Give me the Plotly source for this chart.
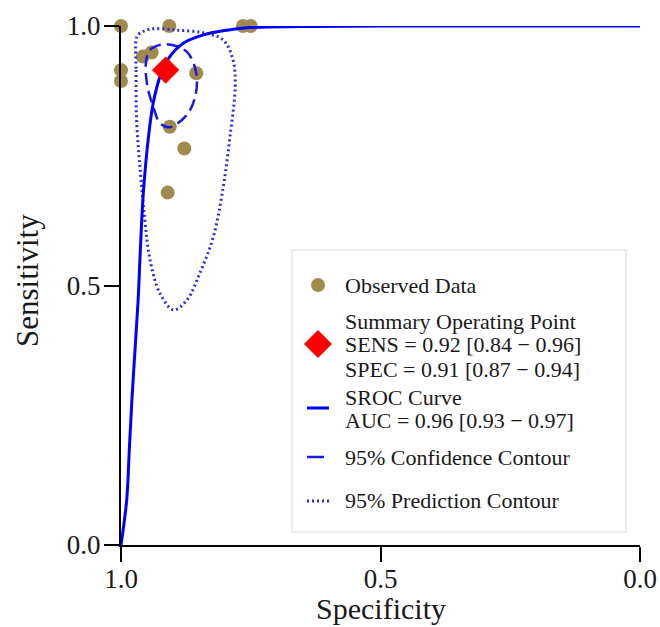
import plotly.graph_objects as go

# ---------------- data ----------------
obs_spec = [1.0, 0.907, 0.765, 0.750, 0.958, 0.941, 1.0, 1.0, 0.855, 0.906, 0.878, 0.910]
obs_sens = [1.0, 1.0, 1.0, 1.0, 0.941, 0.949, 0.915, 0.894, 0.909, 0.806, 0.764, 0.679]

summary_spec = [0.914]
summary_sens = [0.915]

sroc_spec = [1.0, 0.989, 0.984, 0.979, 0.973, 0.967, 0.963, 0.957, 0.947, 0.938,
             0.925, 0.906, 0.880, 0.841, 0.796, 0.751, 0.650, 0.500, 0.0]
sroc_sens = [0.0, 0.087, 0.183, 0.279, 0.376, 0.472, 0.562, 0.678, 0.787, 0.851,
             0.902, 0.941, 0.967, 0.983, 0.992, 0.997, 0.999, 1.0, 1.0]

conf_spec = [0.952, 0.944, 0.912, 0.873, 0.855, 0.857, 0.873, 0.906, 0.925, 0.938, 0.949, 0.952]
conf_sens = [0.928, 0.954, 0.965, 0.950, 0.909, 0.864, 0.829, 0.805, 0.813, 0.845, 0.883, 0.928]

pred_spec = [0.971, 0.971, 0.970, 0.963, 0.954, 0.944, 0.925, 0.899, 0.873, 0.848, 0.822,
             0.803, 0.790, 0.780, 0.784, 0.803, 0.841, 0.893, 0.944, 0.967, 0.971]
pred_sens = [0.973, 0.915, 0.819, 0.723, 0.626, 0.549, 0.485, 0.453, 0.472, 0.524, 0.594,
             0.690, 0.787, 0.883, 0.934, 0.973, 0.987, 0.992, 0.994, 0.983, 0.973]

tick_vals = [1.0, 0.5, 0.0]
tick_text = ["1.0", "0.5", "0.0"]

legend_lines = ["Observed Data",
                "Summary Operating Point",
                "SENS = 0.92 [0.84 \u2212 0.96]",
                "SPEC = 0.91 [0.87 \u2212 0.94]",
                "SROC Curve",
                "AUC = 0.96 [0.93 \u2212 0.97]",
                "95% Confidence Contour",
                "95% Prediction Contour"]

# ---------------- layout constants ----------------
W, H = 660, 627
L, R, T, B = 121, 20, 26, 82
PW = W - L - R
PH = H - T - B
FONT = "Liberation Serif, Times New Roman, serif"
GOLD = "#a08a4d"
BLUE = "#0000ff"
DASHBLUE = "#1a1ae0"
DOTBLUE = "#2b2bd9"
TXT = "#1a1a1a"


def px(x):
    return (x - L) / PW


def py(y):
    return (T + PH - y) / PH


fig = go.Figure()

fig.add_trace(go.Scatter(x=obs_spec, y=obs_sens, mode="markers",
                         marker=dict(size=14, color=GOLD), cliponaxis=False,
                         showlegend=False))
fig.add_trace(go.Scatter(x=pred_spec, y=pred_sens, mode="lines",
                         line=dict(color=DOTBLUE, width=3, dash="2px,3px", shape="spline"),
                         cliponaxis=False, showlegend=False))
fig.add_trace(go.Scatter(x=conf_spec, y=conf_sens, mode="lines",
                         line=dict(color=DASHBLUE, width=2.5, dash="12px,6px", shape="spline"),
                         cliponaxis=False, showlegend=False))
fig.add_trace(go.Scatter(x=sroc_spec, y=sroc_sens, mode="lines",
                         line=dict(color=BLUE, width=3, shape="spline"),
                         cliponaxis=False, showlegend=False))
fig.add_trace(go.Scatter(x=summary_spec, y=summary_sens, mode="markers",
                         marker=dict(size=21, color="#ff0000", symbol="diamond"),
                         cliponaxis=False, showlegend=False))

# ---------------- manual legend ----------------
shapes = []
shapes.append(dict(type="rect", xref="paper", yref="paper",
                   x0=px(292), x1=px(626), y0=py(532), y1=py(250),
                   line=dict(color="#e2e8e8", width=1.5), fillcolor="white", layer="below"))
shapes.append(dict(type="circle", xref="paper", yref="paper",
                   x0=px(311), x1=px(325), y0=py(292), y1=py(278),
                   line=dict(width=0), fillcolor=GOLD))
cx, cy, r = 318, 344, 14
shapes.append(dict(type="path", xref="paper", yref="paper",
                   path=f"M {px(cx - r)},{py(cy)} L {px(cx)},{py(cy - r)} L {px(cx + r)},{py(cy)} L {px(cx)},{py(cy + r)} Z",
                   line=dict(width=0), fillcolor="#ff0000"))
shapes.append(dict(type="line", xref="paper", yref="paper",
                   x0=px(307), x1=px(329), y0=py(408), y1=py(408),
                   line=dict(color=BLUE, width=3)))
shapes.append(dict(type="line", xref="paper", yref="paper",
                   x0=px(307), x1=px(324), y0=py(457), y1=py(457),
                   line=dict(color=DASHBLUE, width=2.5)))
shapes.append(dict(type="line", xref="paper", yref="paper",
                   x0=px(307), x1=px(330), y0=py(501), y1=py(501),
                   line=dict(color=DOTBLUE, width=3, dash="2px,3px")))

legend_y = [285, 321.5, 344, 369, 397, 420, 457, 500]
annotations = []
for txt, yy in zip(legend_lines, legend_y):
    annotations.append(dict(text=txt, xref="paper", yref="paper", x=px(344), y=py(yy),
                            xanchor="left", yanchor="middle", showarrow=False, borderpad=0,
                            font=dict(family=FONT, size=22, color=TXT)))

annotations.append(dict(text="Specificity", xref="paper", yref="paper", x=0.5, y=py(608),
                        xanchor="center", yanchor="middle", showarrow=False, borderpad=0,
                        font=dict(family=FONT, size=30, color=TXT)))
annotations.append(dict(text="Sensitivity", xref="paper", yref="paper", x=px(27), y=py(281),
                        xanchor="center", yanchor="middle", showarrow=False, textangle=-90,
                        borderpad=0, font=dict(family=FONT, size=31, color=TXT)))

axis_common = dict(showgrid=False, zeroline=False, showline=True, linecolor="black",
                   linewidth=2, ticks="outside", ticklen=15, tickwidth=2, tickcolor="black",
                   tickvals=tick_vals, ticktext=tick_text, automargin=False,
                   tickfont=dict(family=FONT, size=27, color=TXT))

fig.update_layout(
    width=W, height=H,
    margin=dict(l=L, r=R, t=T, b=B),
    paper_bgcolor="white", plot_bgcolor="white",
    xaxis=dict(range=[1, 0], ticklabelstandoff=-6, **axis_common),
    yaxis=dict(range=[0, 1], ticklabelstandoff=-2, **axis_common),
    shapes=shapes, annotations=annotations,
    showlegend=False,
)

fig.write_html("out.html")
